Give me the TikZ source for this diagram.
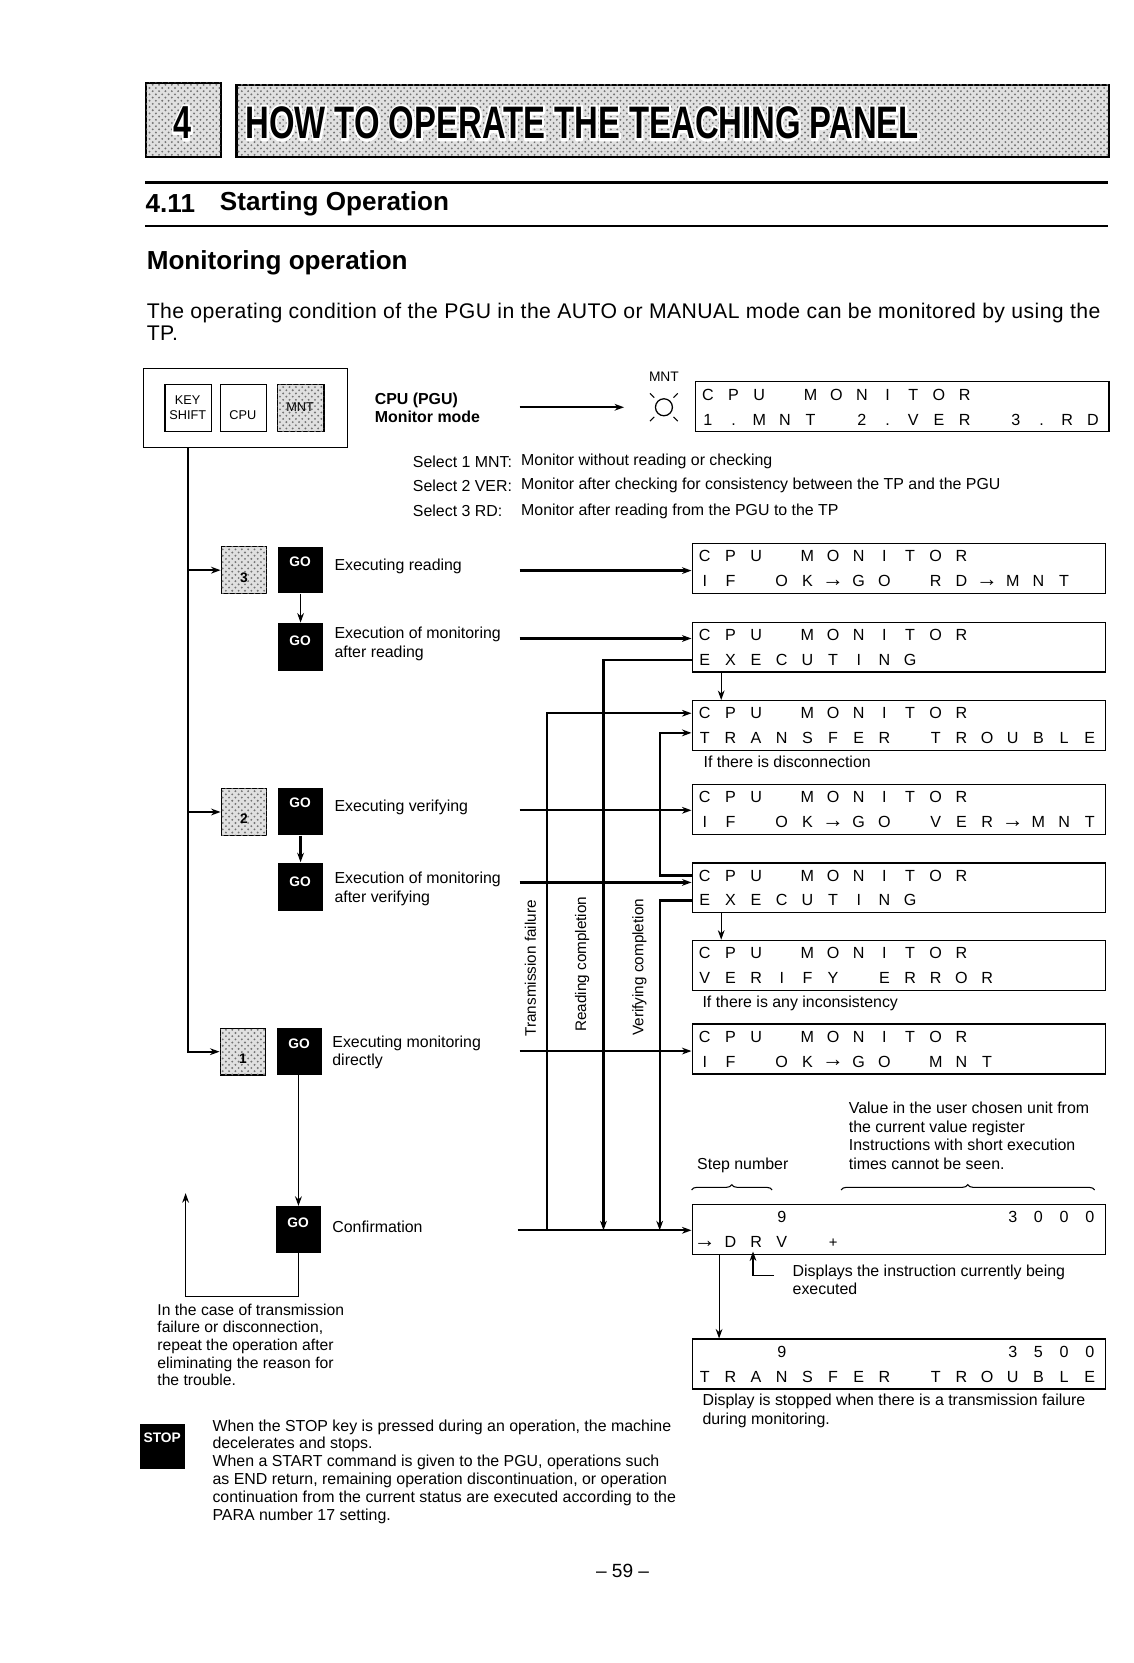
\documentclass[tikz,border=0pt]{standalone}
\usepackage{fontspec}
\usepackage{graphicx}
\setmainfont{Liberation Sans}
\usetikzlibrary{arrows.meta,calc,decorations.pathreplacing,patterns}
\makeatletter
\newcommand\lcdrow[1]{\@for\lcd@c:=#1\do{\makebox[12.1pt][c]{\lcd@c}}}
\makeatother
\newcommand\lar{\raisebox{0.2pt}{\scalebox{1.35}{→}}}
\newcommand\outl[1]{\special{pdf:literal 1 Tr 1 G 2.4 w 1 j}\rlap{#1}\special{pdf:literal 0 Tr 0 G 0.4 w 0 j}#1}
\newcommand\ttltext{\resizebox{317.5pt}{15pt}{\fontsize{21}{22}\selectfont\bfseries\outl{HOW TO OPERATE THE TEACHING PANEL}}}
\newcommand\chaptext{\resizebox{8.5pt}{15pt}{\fontsize{21}{22}\selectfont\bfseries\outl{4}}}
\newcommand\lcdbox[4]{%
 \node[disp] (#1) at (652,#2) {};
 \node[lcdtxt] (#1a) at (652,{#2+12.5}) {\lcdrow{#3}};
 \node[lcdtxt] (#1b) at (652,{#2+36}) {\lcdrow{#4}};}
\begin{document}
\begin{tikzpicture}[x=0.5pt,y=-0.5pt,>={Stealth[length=4.5pt,width=3.2pt]},
 conn/.style={line width=1.1pt},
 thinc/.style={line width=0.5pt},
 disp/.style={draw,line width=0.6pt,minimum width=195pt,minimum height=23.5pt,inner sep=0,anchor=north west},
 lcdtxt/.style={anchor=west,inner sep=0,font=\fontsize{7.6}{8}\selectfont},
 dotfill/.style={fill=black!12,postaction={pattern=crosshatch dots,pattern color=black!55}},
 keyb/.style={draw,line width=0.6pt,minimum width=22pt,minimum height=22pt,inner sep=0,anchor=north west},
 gobox/.style={fill=black,minimum width=21pt,minimum height=22pt,inner sep=0,anchor=north west},
 gotxt/.style={text=white,font=\fontsize{6.5}{7}\selectfont\bfseries,inner sep=0},
 lbl/.style={font=\fontsize{7.5}{8.6}\selectfont,align=left,inner sep=0,anchor=north west},
 sm/.style={font=\fontsize{7.5}{8.7}\selectfont,align=left,inner sep=0,anchor=north west},
 sel/.style={font=\fontsize{7.5}{8.6}\selectfont,inner sep=0,anchor=west},
 rot/.style={rotate=90,font=\fontsize{7.2}{8}\selectfont,inner sep=0},
 sec/.style={font=\fontsize{12.3}{14}\selectfont\bfseries,inner sep=0,anchor=west}]
\path[use as bounding box,fill=white] (0,0) rectangle (1069,1568);

% ---------- header
\node[dotfill,draw,line width=1pt,minimum width=35pt,minimum height=35pt,inner sep=0,anchor=north west] (chap) at (137,77) {};
\node[dotfill,draw,line width=1pt,minimum width=411.5pt,minimum height=34pt,inner sep=0,anchor=north west] (tbox) at (222,79) {};
\node[inner sep=0] (chn) at (172,116) {\chaptext};
\node[anchor=west,inner sep=0] (ttl) at (231,116) {\ttltext};

\draw[line width=1.2pt] (137,172) -- (1045,172);
\draw[line width=1.2pt] (137,213) -- (1045,213);
\node[sec] (secn) at (137,192) {4.11};
\node[sec] (sect) at (207,192) {Starting Operation};
\node[sec] (mon) at (138,248) {Monitoring operation};
\node[anchor=north west,inner sep=0,align=left,font=\fontsize{10}{10.5}\selectfont\addfontfeature{LetterSpace=2}] (para) at (138,285)
 {The operating condition of the PGU in the AUTO or MANUAL mode can be monitored by using the\\TP.};

% ---------- key panel
\node[draw,line width=0.6pt,minimum width=96pt,minimum height=37pt,inner sep=0,anchor=north west] (kbox) at (135,347) {};
\node[keyb] (kks) at (155,362) {};
\node[align=center,font=\fontsize{6}{7}\selectfont,inner sep=0] (kkst) at (177,384) {KEY\\SHIFT};
\node[keyb] (kcpu) at (207,362) {};
\node[font=\fontsize{6}{7}\selectfont,inner sep=0] (kcput) at (229,391) {CPU};
\node[keyb,dotfill] (kmnt) at (261,362) {};
\node[font=\fontsize{6}{7}\selectfont,inner sep=0] (kmntt) at (283,384) {MNT};

\node[lbl,font=\fontsize{7.5}{8.6}\selectfont\bfseries] (cpum) at (353,370) {CPU (PGU)\\Monitor mode};
\node[draw,circle,line width=0.6pt,minimum size=8pt,inner sep=0] (lamp) at (626,384) {};
\node[font=\fontsize{6.5}{7}\selectfont,inner sep=0] (mntl) at (626,355) {MNT};
\draw[thinc] ($(lamp.north west)+(-3,-3)$) -- ($(lamp.north west)+(-7,-7)$);
\draw[thinc] ($(lamp.north east)+(3,-3)$) -- ($(lamp.north east)+(7,-7)$);
\draw[thinc] ($(lamp.south west)+(-3,3)$) -- ($(lamp.south west)+(-7,7)$);
\draw[thinc] ($(lamp.south east)+(3,3)$) -- ($(lamp.south east)+(7,7)$);
\coordinate (am1) at (490,384);
\draw[conn,->] (am1) -- ($(lamp.west)+(-29,0)$);

\node[disp] (d0) at (655,359) {};
\node[lcdtxt] (d0a) at (655,372) {\lcdrow{C,P,U,,M,O,N,I,T,O,R}};
\node[lcdtxt] (d0b) at (655,396) {\lcdrow{1,.,M,N,T,,2,.,V,E,R,,3,.,R,D}};

\node[sel] (s1) at (389,435) {Select 1 MNT:};
\node[sel] (s2) at (389,458) {Select 2 VER:};
\node[sel] (s3) at (389,482) {Select 3 RD:};
\node[sel] (t1) at (491,435) {Monitor without reading or checking};
\node[sel] (t2) at (491,458) {Monitor after checking for consistency between the TP and the PGU};
\node[sel] (t3) at (491,482) {Monitor after reading from the PGU to the TP};

% ---------- keys and GO
\node[keyb,dotfill,minimum width=21.5pt] (k3) at (208,515) {};
\node[font=\fontsize{6.5}{7}\selectfont\bfseries,inner sep=0] (k3t) at (230,545) {3};
\node[keyb,dotfill,minimum width=21.5pt] (k2) at (208,743) {};
\node[font=\fontsize{6.5}{7}\selectfont\bfseries,inner sep=0] (k2t) at (230,772) {2};
\node[keyb,dotfill,minimum width=21.5pt] (k1) at (207,969) {};
\node[font=\fontsize{6.5}{7}\selectfont\bfseries,inner sep=0] (k1t) at (229,998) {1};

\node[gobox] (go1) at (262,515) {};
\node[gotxt] (go1t) at (283,530) {GO};
\node[gobox,minimum height=22.5pt] (go2) at (262,587) {};
\node[gotxt] (go2t) at (283,604) {GO};
\node[gobox] (go3) at (262,743) {};
\node[gotxt] (go3t) at (283,757) {GO};
\node[gobox,minimum height=23pt] (go4) at (262,813) {};
\node[gotxt] (go4t) at (283,831) {GO};
\node[gobox] (go5) at (261,969) {};
\node[gotxt] (go5t) at (282,984) {GO};
\node[gobox] (goc) at (260,1137) {};
\node[gotxt] (goct) at (281,1153) {GO};

% trunk
\coordinate (tk) at (177,991);
\draw[conn,->] (kbox.south -| tk) |- (k1.west);
\draw[conn,->] (k3.west -| tk) -- (k3.west);
\draw[conn,->] (k2.west -| tk) -- (k2.west);

\draw[thinc,->] (go1.south) -- (go2.north);
\draw[conn,->] (go3.south) -- (go4.north);
\draw[line width=0.8pt,->] (goc.north |- go5.south) -- (goc.north);
\coordinate (rb) at (175,1222);
\coordinate (rt) at (175,1125);
\draw[thinc,->] (goc.south) |- (rb) -- (rt);

% labels
\node[lbl,anchor=west] (l1) at (315,534) {Executing reading};
\node[lbl] (l2) at (315,591) {Execution of monitoring\\after reading};
\node[lbl,anchor=west] (l3) at (315,761) {Executing verifying};
\node[lbl] (l4) at (315,822) {Execution of monitoring\\after verifying};
\node[lbl] (l5) at (313,976) {Executing monitoring\\directly};
\node[lbl,anchor=west] (l6) at (313,1157) {Confirmation};

% ---------- displays
\lcdbox{d1}{512}{C,P,U,,M,O,N,I,T,O,R}{I,F,,O,K,\lar,G,O,,R,D,\lar,M,N,T}
\lcdbox{d2}{586}{C,P,U,,M,O,N,I,T,O,R}{E,X,E,C,U,T,I,N,G}
\lcdbox{d3}{660}{C,P,U,,M,O,N,I,T,O,R}{T,R,A,N,S,F,E,R,,T,R,O,U,B,L,E}
\lcdbox{d4}{739}{C,P,U,,M,O,N,I,T,O,R}{I,F,,O,K,\lar,G,O,,V,E,R,\lar,M,N,T}
\lcdbox{d5}{813}{C,P,U,,M,O,N,I,T,O,R}{E,X,E,C,U,T,I,N,G}
\lcdbox{d6}{886}{C,P,U,,M,O,N,I,T,O,R}{V,E,R,I,F,Y,,E,R,R,O,R}
\lcdbox{d7}{965}{C,P,U,,M,O,N,I,T,O,R}{I,F,,O,K,\lar,G,O,,M,N,T}
\lcdbox{d8}{1135}{,,,9,,,,,,,,,3,0,0,0}{\lar,D,R,V,,{\scriptsize +}}
\lcdbox{d9}{1262}{,,,9,,,,,,,,,3,5,0,0}{T,R,A,N,S,F,E,R,,T,R,O,U,B,L,E}

\node[sm,anchor=west] (cap3) at (663,718) {If there is disconnection};
\node[sm,anchor=west] (cap6) at (662,946) {If there is any inconsistency};

% horizontal arrows
\coordinate (a1) at (490,538);
\coordinate (a2) at (490,602);
\coordinate (a4) at (490,764);
\coordinate (a5) at (490,832);
\coordinate (a7) at (490,991);
\coordinate (a8) at (488,1160);
\draw[conn,->] (a1) -- (a1 -| d1.west);
\draw[conn,->] (a2) -- (a2 -| d2.west);
\draw[conn,->] (a4) -- (a4 -| d4.west);
\draw[conn,->] (a5) -- (a5 -| d5.west);
\draw[conn,->] (a7) -- (a7 -| d7.west);
\draw[conn,->] (a8) -- (a8 -| d8.west);

% vertical feedback lines
\coordinate (tfb) at (516,1160);
\coordinate (rcb) at (569,1160);
\coordinate (vcb) at (622,1160);
\coordinate (vtt) at (622,691);
\draw[conn,->] (tfb) |- (d3a.west);
\draw[conn,->] (d2b.west) -| (rcb);
\draw[conn,->] (d5a.west) -| (vtt) -- (vtt -| d3.west);
\draw[conn,->] (d5b.west) -| (vcb);
\draw[thinc,->] ($(d2.south west)+(28,0)$) -- ($(d3.north west)+(28,0)$);
\draw[thinc,->] ($(d5.south west)+(28,0)$) -- ($(d6.north west)+(28,0)$);

\node[rot] (ltf) at (500,913) {Transmission failure};
\node[rot] (lrc) at (549,909) {Reading completion};
\node[rot] (lvc) at (603,912) {Verifying completion};

% ---------- D8 / D9 annotations
\node[sm] (val) at (800,1039) {Value in the user chosen unit from\\the current value register\\Instructions with short execution\\times cannot be seen.};
\node[sm,anchor=west] (stepn) at (657,1099) {Step number};
\draw[thinc,decorate,decoration={brace,amplitude=2.5pt}] (652,1122) -- (728,1122);
\draw[thinc,decorate,decoration={brace,amplitude=2.5pt}] (793,1122) -- (1032,1122);
\coordinate (pp) at (730,1203);
\coordinate (ptip) at (710,1180);
\draw[thinc,->] (pp) -| (ptip);
\node[sm] (dispi) at (747,1192) {Displays the instruction currently being\\executed};
\draw[thinc,->] ($(d8.south west)+(26,0)$) -- ($(d9.north west)+(26,0)$);
\node[sm] (dstop) at (662,1314) {Display is stopped when there is a transmission failure\\during monitoring.};

% ---------- notes
\node[sm,font=\fontsize{7.4}{8.3}\selectfont] (note) at (148,1229) {In the case of transmission\\failure or disconnection,\\repeat the operation after\\eliminating the reason for\\the trouble.};
\node[fill=black,minimum width=21pt,minimum height=21.5pt,inner sep=0,anchor=north west] (stop) at (132,1342) {};
\node[gotxt] (stopt) at (153,1356) {STOP};
\node[sm,font=\fontsize{7.5}{8.4}\selectfont] (stopx) at (200,1338) {When the STOP key is pressed during an operation, the machine\\decelerates and stops.\\When a START command is given to the PGU, operations such\\as END return, remaining operation discontinuation, or operation\\continuation from the current status are executed according to the\\PARA number 17 setting.};
\node[font=\fontsize{9}{10}\selectfont,inner sep=0] (pg) at (587,1481) {– 59 –};
\end{tikzpicture}
\end{document}
